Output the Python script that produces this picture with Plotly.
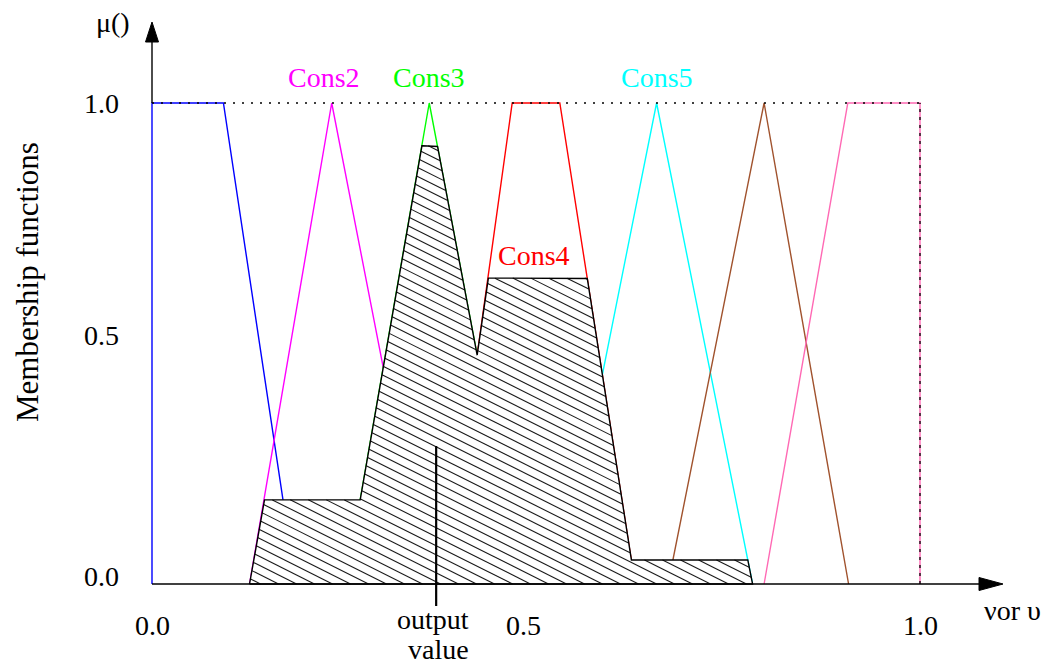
import numpy as np
import plotly.graph_objects as go

# ---- membership functions of the output variable (x, mu breakpoints) ----
cons_names = ["Cons1", "Cons2", "Cons3", "Cons4", "Cons5", "Cons6", "Cons7"]
cons1_x = [0.0, 0.0, 0.093, 0.187]
cons1_y = [0.0, 1.0, 1.0, 0.0]
cons2_x = [0.127, 0.234, 0.356]
cons2_y = [0.0, 1.0, 0.0]
cons3_x = [0.252, 0.361, 0.480]
cons3_y = [0.0, 1.0, 0.0]
cons4_x = [0.382, 0.469, 0.531, 0.629]
cons4_y = [0.0, 1.0, 1.0, 0.0]
cons5_x = [0.532, 0.657, 0.782]
cons5_y = [0.0, 1.0, 0.0]
cons6_x = [0.672, 0.797, 0.907]
cons6_y = [0.0, 1.0, 0.0]
cons7_x = [0.797, 0.906, 1.0, 1.0]
cons7_y = [0.0, 1.0, 1.0, 0.0]

cons_colors = ["#0000ff", "#ff00ff", "#00ff00", "#ff0000", "#00ffff", "#a0522d", "#ff69b4"]

# rule firing strengths (clipping level of each consequent)
firing = [0.0, 0.175, 0.911, 0.636, 0.05, 0.0, 0.0]

# defuzzified output
output_value = 0.370

# labelled consequents
label_names = ["Cons2", "Cons3", "Cons4", "Cons5"]
label_x = [0.224, 0.361, 0.497, 0.657]
label_y = [1.053, 1.053, 0.683, 1.053]
label_colors = ["#ff00ff", "#00ff00", "#ff0000", "#00ffff"]

x_ticks = [0.0, 0.5, 1.0]
x_tick_text = ["0.0", "0.5", "1.0"]
x_tick_shift = [0, -13, 0]
y_ticks = [0.0, 0.5, 1.0]
y_tick_text = ["0.0", "0.5", "1.0"]
y_tick_shift = [8, 8, 0]

# ---- page geometry (pixels) ----
W, H = 1060, 664
PX0, PXS = 152, 768      # pixel of x=0 and pixels per unit x
PY0, PYS = 584, 481      # pixel of mu=0 and pixels per unit mu
x_range = [-PX0 / PXS, (W - PX0) / PXS]
y_range = [-(H - PY0) / PYS, PY0 / PYS]

FONT = "Liberation Serif"
FS = 28

mfs = [(cons1_x, cons1_y), (cons2_x, cons2_y), (cons3_x, cons3_y), (cons4_x, cons4_y),
       (cons5_x, cons5_y), (cons6_x, cons6_y), (cons7_x, cons7_y)]

fig = go.Figure()

# membership function outlines
for (xs, ys), col, name in zip(mfs, cons_colors, cons_names):
    fig.add_trace(go.Scatter(x=xs, y=ys, mode="lines", name=name,
                             line=dict(color=col, width=1.4), hoverinfo="skip"))

# aggregated (max of clipped) output fuzzy set
grid = np.linspace(0.0, 1.0, 4001)
agg = np.zeros_like(grid)
for (xs, ys), level in zip(mfs, firing):
    if level <= 0:
        continue
    mu = np.interp(grid, xs, ys, left=0.0, right=0.0)
    agg = np.maximum(agg, np.minimum(mu, level))

nz = np.nonzero(agg > 1e-9)[0]
i0, i1 = max(nz[0] - 1, 0), min(nz[-1] + 1, len(grid) - 1)
poly_x = list(grid[i0:i1 + 1]) + [grid[i1], grid[i0]]
poly_y = list(agg[i0:i1 + 1]) + [0.0, 0.0]

fig.add_trace(go.Scatter(x=poly_x, y=poly_y, mode="lines", fill="toself",
                         fillcolor="white", line=dict(width=0), hoverinfo="skip",
                         showlegend=False))

# diagonal hatching inside the aggregated set (pixel-space slope 0.5, 9 px apart)
hx, hy = [], []
gx = grid[i0:i1 + 1]
ga = agg[i0:i1 + 1]
Xp = PX0 + PXS * gx
for c in np.arange(PY0 - 0.5 * (Xp[-1] - PX0) - 600, PY0 + 9, 9.0):
    Yp = c + 0.5 * (Xp - PX0)
    mu_line = (PY0 - Yp) / PYS
    inside = (mu_line >= 0) & (mu_line <= ga)
    if not inside.any():
        continue
    idx = np.nonzero(inside)[0]
    breaks = np.nonzero(np.diff(idx) > 1)[0]
    starts = np.concatenate(([idx[0]], idx[breaks + 1]))
    ends = np.concatenate((idx[breaks], [idx[-1]]))
    for s, e in zip(starts, ends):
        if e - s < 2:
            continue
        hx += [gx[s], gx[e], None]
        hy += [mu_line[s], mu_line[e], None]

fig.add_trace(go.Scatter(x=hx, y=hy, mode="lines", hoverinfo="skip", showlegend=False,
                         line=dict(color="#1a1a1a", width=1.1)))

# outline of the aggregated set
fig.add_trace(go.Scatter(x=poly_x, y=poly_y, mode="lines", hoverinfo="skip",
                         showlegend=False, line=dict(color="black", width=1.4)))

# dotted unit level and right boundary
fig.add_trace(go.Scatter(x=[0.0, 1.0], y=[1.0, 1.0], mode="lines", hoverinfo="skip",
                         showlegend=False, line=dict(color="black", width=1.3, dash="2px,7px")))
fig.add_trace(go.Scatter(x=[1.0, 1.0], y=[0.0, 1.0], mode="lines", hoverinfo="skip",
                         showlegend=False, line=dict(color="black", width=1.3, dash="3px,5px")))

# axes with arrow heads
x_tip = (1003 - PX0) / PXS
x_base = (979 - PX0) / PXS
y_tip = (PY0 - 22) / PYS
y_base = (PY0 - 42) / PYS
ah_x = 6.5 / PYS
ah_y = 6.5 / PXS
shapes = [
    dict(type="line", x0=0, y0=0, x1=x_base, y1=0, line=dict(color="black", width=1.6)),
    dict(type="line", x0=0, y0=1.0, x1=0, y1=y_base, line=dict(color="black", width=1.4)),
    dict(type="path", path=f"M {x_tip},0 L {x_base},{ah_x} L {x_base},{-ah_x} Z",
         fillcolor="black", line=dict(color="black", width=1)),
    dict(type="path", path=f"M 0,{y_tip} L {-ah_y},{y_base} L {ah_y},{y_base} Z",
         fillcolor="black", line=dict(color="black", width=1)),
    dict(type="line", x0=output_value, y0=(PY0 - 446) / PYS, x1=output_value,
         y1=(PY0 - 606) / PYS, line=dict(color="black", width=2.2)),
]

ann = []
for t, x, y, c in zip(label_names, label_x, label_y, label_colors):
    ann.append(dict(x=x, y=y, text=t, showarrow=False, font=dict(color=c, size=FS, family=FONT),
                    xanchor="center", yanchor="middle"))
for v, t, s in zip(x_ticks, x_tick_text, x_tick_shift):
    ann.append(dict(x=v, y=0, text=t, showarrow=False, xshift=s, yshift=-41,
                    font=dict(color="black", size=FS, family=FONT),
                    xanchor="center", yanchor="middle"))
for v, t, s in zip(y_ticks, y_tick_text, y_tick_shift):
    ann.append(dict(x=0, y=v, text=t, showarrow=False, xshift=-31, yshift=s,
                    font=dict(color="black", size=FS, family=FONT),
                    xanchor="right", yanchor="middle"))
ann += [
    dict(x=(113 - PX0) / PXS, y=(PY0 - 22) / PYS, text="μ()", showarrow=False,
         font=dict(color="black", size=FS, family=FONT), xanchor="center", yanchor="middle"),
    dict(x=(27 - PX0) / PXS, y=(PY0 - 282) / PYS, text="Membership functions", textangle=-90,
         showarrow=False, font=dict(color="black", size=31, family=FONT),
         xanchor="center", yanchor="middle"),
    dict(x=(1012 - PX0) / PXS, y=(PY0 - 610) / PYS, text="νor υ", showarrow=False,
         font=dict(color="black", size=FS, family=FONT), xanchor="center", yanchor="middle"),
    dict(x=output_value, y=(PY0 - 619) / PYS, text="output", showarrow=False, xshift=-3,
         font=dict(color="black", size=FS, family=FONT), xanchor="center", yanchor="middle"),
    dict(x=output_value, y=(PY0 - 649) / PYS, text="value", showarrow=False, xshift=2,
         font=dict(color="black", size=FS, family=FONT), xanchor="center", yanchor="middle"),
]

fig.update_layout(
    width=W, height=H, margin=dict(l=0, r=0, t=0, b=0),
    paper_bgcolor="white", plot_bgcolor="white", showlegend=False,
    xaxis=dict(range=x_range, visible=False, fixedrange=True),
    yaxis=dict(range=y_range, visible=False, fixedrange=True),
    shapes=shapes, annotations=ann,
)

fig.write_html("out.html")
